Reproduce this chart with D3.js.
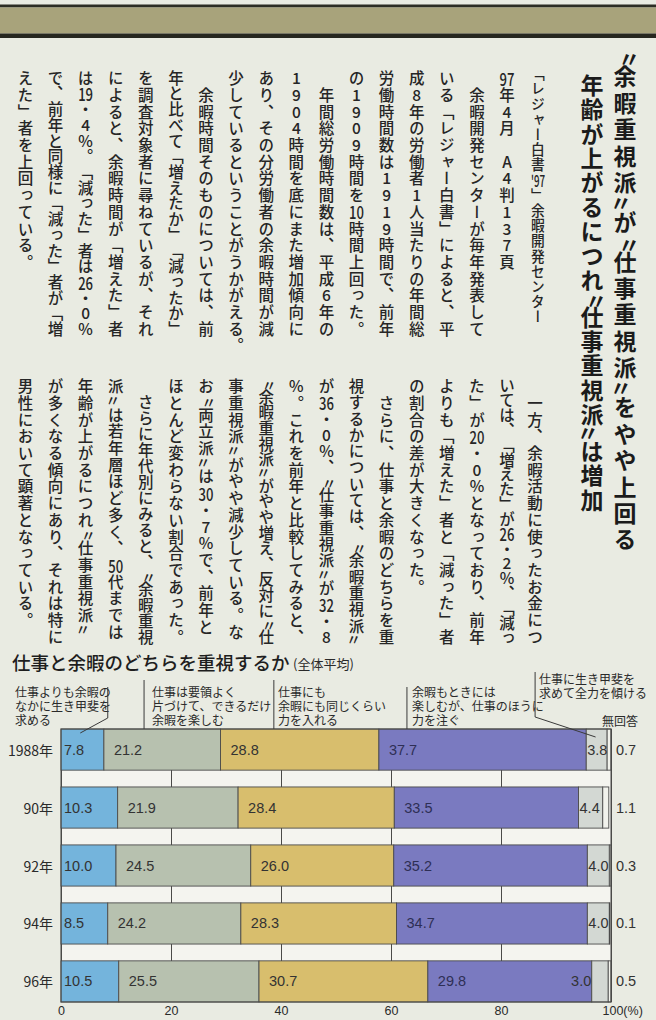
<!DOCTYPE html>
<html><head><meta charset="utf-8">
<script src="https://cdn.jsdelivr.net/npm/d3@7"></script>
<style>
html,body{margin:0;padding:0;background:#e9ebe2;}
svg{display:block;}
.v{writing-mode:vertical-rl;text-orientation:upright;}
</style></head><body>
<script>
// ---------------- data ----------------
const years = ["1988年", "90年", "92年", "94年", "96年"];
const seriesKeys = ["leisureFirst", "leisureEfficient", "balanced", "workLeaning", "workFirst", "noAnswer"];
const leisureFirst     = [7.8, 10.3, 10.0, 8.5, 10.5];
const leisureEfficient = [21.2, 21.9, 24.5, 24.2, 25.5];
const balanced         = [28.8, 28.4, 26.0, 28.3, 30.7];
const workLeaning      = [37.7, 33.5, 35.2, 34.7, 29.8];
const workFirst        = [3.8, 4.4, 4.0, 4.0, 3.0];
const noAnswer         = [0.7, 1.1, 0.3, 0.1, 0.5];
const xTicks = [0, 20, 40, 60, 80, 100];
const chartTitle = "仕事と余暇のどちらを重視するか";
const chartSubtitle = "(全体平均)";
const categoryLabels = [
  ["仕事よりも余暇の", "なかに生き甲斐を", "求める"],
  ["仕事は要領よく", "片づけて、できるだけ", "余暇を楽しむ"],
  ["仕事にも", "余暇にも同じくらい", "力を入れる"],
  ["余暇もときには", "楽しむが、仕事のほうに", "力を注ぐ"],
  ["仕事に生き甲斐を", "求めて全力を傾ける"],
  ["無回答"]
];
const headline = ["〝余暇重視派〟が〝仕事重視派〟をやや上回る", "年齢が上がるにつれ〝仕事重視派〟は増加"];
const sourceLine = "「レジャー白書{'97}」余暇開発センター";
const upperColumns = [
  "{97}年4月　A4判137頁",
  "　余暇開発センターが毎年発表して",
  "いる「レジャー白書」によると、平",
  "成8年の労働者1人当たりの年間総",
  "労働時間数は1919時間で、前年",
  "の1909時間を{10}時間上回った。",
  "　年間総労働時間数は、平成6年の",
  "1904時間を底にまた増加傾向に",
  "あり、その分労働者の余暇時間が減",
  "少しているということがうかがえる。",
  "　余暇時間そのものについては、前",
  "年と比べて「増えたか」「減ったか」",
  "を調査対象者に尋ねているが、それ",
  "によると、余暇時間が「増えた」者",
  "は{19}・4％。「減った」者は{26}・0％",
  "で、前年と同様に「減った」者が「増",
  "えた」者を上回っている。"
];
const lowerFirst = "　一方、余暇活動に使ったお金につ";
const lowerColumns = [
  "いては、「増えた」が{26}・2％、「減っ",
  "た」が{20}・0％となっており、前年",
  "よりも「増えた」者と「減った」者",
  "の割合の差が大きくなった。",
  "　さらに、仕事と余暇のどちらを重",
  "視するかについては、〝余暇重視派〟",
  "が{36}・0％、〝仕事重視派〟が{32}・8",
  "％。これを前年と比較してみると、",
  "〝余暇重視派〟がやや増え、反対に〝仕",
  "事重視派〟がやや減少している。な",
  "お〝両立派〟は{30}・7％で、前年と",
  "ほとんど変わらない割合であった。",
  "　さらに年代別にみると、〝余暇重視",
  "派〟は若年層ほど多く、{50}代までは",
  "年齢が上がるにつれ〝仕事重視派〟",
  "が多くなる傾向にあり、それは特に",
  "男性において顕著となっている。"
];

// ---------------- setup ----------------
const W = 656, H = 1020;
const JP = "'Noto Sans CJK JP', 'Noto Sans', sans-serif";
const NUM = "'Liberation Sans', Arial, sans-serif";
const svg = d3.select("body").append("svg").attr("width", W).attr("height", H);
svg.append("rect").attr("width", W).attr("height", H).attr("fill", "#e9ebe2");

// top band
svg.append("rect").attr("x", 0).attr("y", 4.5).attr("width", W).attr("height", 3).attr("fill", "#2c2d24");
svg.append("rect").attr("x", 0).attr("y", 7.5).attr("width", W).attr("height", 26).attr("fill", "#a8a37b");
svg.append("rect").attr("x", 0).attr("y", 33.5).attr("width", W).attr("height", 4.5).attr("fill", "#26271f");

// ---------------- vertical text ----------------
function tokenize(s) {
  const ch = Array.from(s), out = [];
  for (let i = 0; i < ch.length; i++) {
    if (ch[i] === "{") {
      let t = ""; i++;
      while (ch[i] !== "}") { t += ch[i]; i++; }
      out.push({ t, tcy: true });
    } else out.push({ t: ch[i], tcy: false });
  }
  return out;
}
const isQuote = t => !t.tcy && (t.t === "〝" || t.t === "〟");
function drawColumn(g, str, cx, top, o) {
  const toks = tokenize(str);
  const wt = t => isQuote(t) ? o.q : 1;
  const n = toks.length, last = toks[n - 1];
  const hang = !last.tcy && "。、".includes(last.t);
  const total = d3.sum(hang ? toks.slice(0, n - 1) : toks, wt);
  let pitch = o.pitch;
  if (o.cells && total > o.cells) pitch = o.cells * o.pitch / total;
  if (o.end) pitch = (o.end - top) / d3.sum(toks, wt);
  let acc = 0;
  const col = g.append("g").attr("transform", `translate(${cx},0) scale(${o.sx || 1},1)`);
  toks.forEach(t => {
    const w = wt(t) * pitch, y0 = top + acc;
    acc += w;
    if (t.t === "　") return;
    if (t.tcy) {
      const tx = col.append("text").attr("x", 0).attr("y", y0 + w / 2)
        .attr("text-anchor", "middle").attr("dominant-baseline", "central")
        .attr("font-size", o.size * 1.12).text(t.t);
      if (t.t.length >= 2) tx.attr("textLength", o.size * (t.t.length > 2 ? 1.02 : 0.96)).attr("lengthAdjust", "spacingAndGlyphs");
    } else if (isQuote(t)) {
      // vertical ditto-style quotation mark
      const open = t.t === "〝";
      col.append("text").attr("x", (open ? 0.18 : -0.18) * o.size)
        .attr("y", y0 + w / 2 + (open ? 0.05 : -0.05) * o.size)
        .attr("text-anchor", "middle").attr("dominant-baseline", "central")
        .attr("font-size", o.size * 0.95).text("〃");
    } else {
      col.append("text").attr("class", "v").attr("x", 0).attr("y", y0 + (w - o.size) / 2)
        .attr("font-size", o.size).text(t.t);
    }
  });
}
const textG = svg.append("g").attr("font-family", JP).attr("fill", "#262626").attr("font-weight", 500);
// headline
const headG = textG.append("g").attr("fill", "#1b1b1b").attr("font-weight", 700);
drawColumn(headG, headline[0], 625, 50, { size: 23, q: 0.5, end: 553 });
drawColumn(headG, headline[1], 592, 73, { size: 23, q: 0.5, end: 512 });
// source
drawColumn(textG, sourceLine, 538, 66, { size: 14.5, q: 0.6, pitch: 15.2, sx: 0.95 });
// body
const colX = i => 507 - i * 30.1;
const bodyOpt = { size: 15.5, q: 0.7, pitch: 16.7, cells: 16 };
upperColumns.forEach((s, i) => drawColumn(textG, s, colX(i), 70, bodyOpt));
drawColumn(textG, lowerFirst, 535, 378, bodyOpt);
lowerColumns.forEach((s, i) => drawColumn(textG, s, colX(i), 378, bodyOpt));

// ---------------- chart ----------------
const rows = years.map((y, i) => ({
  year: y,
  leisureFirst: leisureFirst[i], leisureEfficient: leisureEfficient[i], balanced: balanced[i],
  workLeaning: workLeaning[i], workFirst: workFirst[i], noAnswer: noAnswer[i]
}));
const stacked = d3.stack().keys(seriesKeys)(rows);
const colors = ["#74b4dc", "#b7c1af", "#d8be6d", "#7a7ac0", "#d3d8d3", "#f1f2ec"];

const x = d3.scaleLinear().domain([0, 100]).range([61, 611]);
const y = d3.scaleBand().domain(years).range([729, 1002]).paddingInner(0.29).paddingOuter(0);
const plotTop = 729, plotBottom = 1002;

const cg = svg.append("g");
// chart title
cg.append("text").attr("x", 12).attr("y", 670).attr("font-family", JP).attr("font-size", 18.5)
  .attr("font-weight", 500).attr("fill", "#1e1e1e").text(chartTitle);
cg.append("text").attr("x", 293).attr("y", 669).attr("font-family", JP).attr("font-size", 13)
  .attr("fill", "#2a2a2a").text(chartSubtitle);

// plot area background
cg.append("rect").attr("x", x(0)).attr("y", plotTop).attr("width", x(100) - x(0))
  .attr("height", plotBottom - plotTop).attr("fill", "#f4f4ef");

// axis + grid
const axis = cg.append("g").attr("transform", `translate(0,${plotBottom})`)
  .call(d3.axisBottom(x).tickValues(xTicks).tickSize(-(plotBottom - plotTop)).tickPadding(4)
    .tickFormat(d => d === 100 ? "100(%)" : d));
axis.select(".domain").remove();
axis.selectAll(".tick line").attr("stroke", "#4a4a48").attr("stroke-width", 1);
axis.selectAll(".tick text").attr("font-family", NUM).attr("font-size", 12.5).attr("fill", "#2a2a2a");
axis.selectAll(".tick").filter(d => d === 100).select("text").attr("text-anchor", "start").attr("x", -9);

// bars
const fmt = d3.format(".1f");
stacked.forEach((s, si) => {
  cg.append("g").selectAll("rect").data(s).join("rect")
    .attr("x", d => x(d[0])).attr("y", d => y(d.data.year))
    .attr("width", d => x(d[1]) - x(d[0])).attr("height", y.bandwidth())
    .attr("fill", colors[si]).attr("stroke", "#4b4b4b").attr("stroke-width", 0.9);
});
// frame
cg.append("rect").attr("x", x(0)).attr("y", plotTop).attr("width", x(100) - x(0))
  .attr("height", plotBottom - plotTop).attr("fill", "none").attr("stroke", "#4a4a48").attr("stroke-width", 1);
// labels
stacked.forEach((s, si) => {
  cg.append("g").selectAll("text").data(s).join("text")
    .attr("font-family", NUM).attr("font-size", 14.5).attr("fill", si === 3 ? "#2e2f55" : "#333")
    .attr("dominant-baseline", "central")
    .attr("y", d => y(d.data.year) + y.bandwidth() / 2)
    .each(function (d) {
      const t = d3.select(this), w = x(d[1]) - x(d[0]);
      if (si === 5) t.attr("x", x(100) + 5).attr("text-anchor", "start");
      else if (si === 4) {
        if (w < 19) t.attr("x", x(d[0]) - 0.5).attr("text-anchor", "end");
        else t.attr("x", x(d[0]) + 1).attr("text-anchor", "start");
      } else t.attr("x", x(d[0]) + (si === 0 ? 3 : 10)).attr("text-anchor", "start");
    })
    .text(d => fmt(d[1] - d[0]));
});
// year labels
cg.append("g").selectAll("text").data(years).join("text")
  .attr("x", 53).attr("y", d => y(d) + y.bandwidth() / 2).attr("text-anchor", "end")
  .attr("dominant-baseline", "central").attr("font-family", JP).attr("font-size", 14)
  .attr("fill", "#2a2a2a").text(d => d);

// category labels and leader lines
const labelPos = [[15, 697], [152, 697], [278, 697], [412, 697], [539, 684], [602, 726]];
categoryLabels.forEach((lines, i) => {
  const t = cg.append("text").attr("font-family", JP).attr("font-size", 12).attr("fill", "#2a2a2a");
  lines.forEach((l, j) => t.append("tspan").attr("x", labelPos[i][0]).attr("y", labelPos[i][1] + j * 14).text(l));
});
const y0 = y(years[0]);
const leaders = [
  [[x(8.5), 687], [x(8.5), 718], [x(3.5), y0 + 4]],
  [[x(15.1), 680], [x(15.1), y0]],
  [[x(38.7), 680], [x(38.7), y0]],
  [[x(62.9), 687], [x(62.9), y0]],
  [[x(86.2), 672], [x(86.2), 717], [x(97.2), y0 + 8]]
];
const line = d3.line();
leaders.forEach(p => cg.append("path").attr("d", line(p)).attr("fill", "none")
  .attr("stroke", "#3a3a3a").attr("stroke-width", 1));
</script>
</body></html>
